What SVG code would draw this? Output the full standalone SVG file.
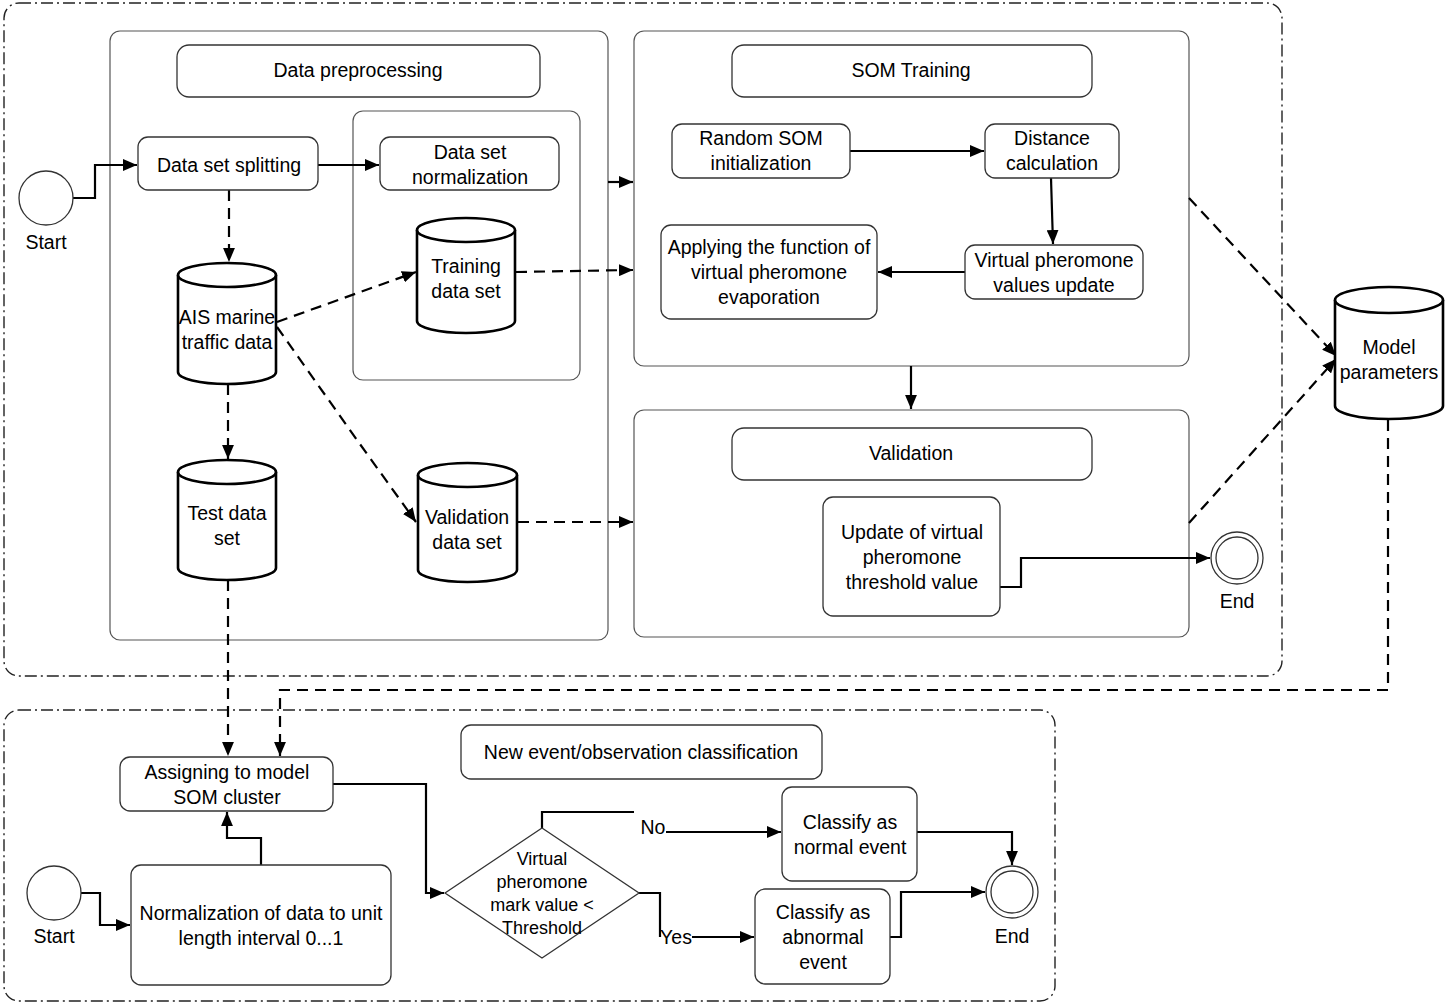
<svg xmlns="http://www.w3.org/2000/svg" width="1447" height="1004" viewBox="0 0 1447 1004">
<defs>
<marker id="ah" viewBox="0 0 13 11" refX="13" refY="5.5" markerWidth="14" markerHeight="12" markerUnits="userSpaceOnUse" orient="auto">
<path d="M0,0 L13,5.5 L0,11 Z" fill="#000"/>
</marker>
<style>
text{font-family:"Liberation Sans",Arial,sans-serif;font-size:19.5px;fill:#000;text-anchor:middle}
.pool{fill:none;stroke:#222;stroke-width:1.4;stroke-dasharray:12,4,2,4}
.panel{fill:#fff;stroke:#555;stroke-width:1.2}
.box{fill:#fff;stroke:#333;stroke-width:1.3}
.cyl{fill:#fff;stroke:#000;stroke-width:2.6}
.ev{fill:#fff;stroke:#333;stroke-width:1.3}
.s{fill:none;stroke:#000;stroke-width:2.2}
.d{fill:none;stroke:#000;stroke-width:2.2;stroke-dasharray:11,7}
</style>
</defs>
<rect width="1447" height="1004" fill="#fff"/>

<g id="pools">
<rect class="pool" x="4" y="3" width="1278" height="673" rx="15"/>
<rect class="pool" x="4" y="710" width="1051" height="291" rx="15"/>
</g>

<g id="panel-preprocessing">
<rect class="panel" x="110" y="31" width="498" height="609" rx="10"/>
<rect class="box" x="177" y="45" width="363" height="52" rx="12"/>
<text x="358" y="77">Data preprocessing</text>
<rect class="panel" x="353" y="111" width="227" height="269" rx="10"/>
</g>

<g id="panel-som">
<rect class="panel" x="634" y="31" width="555" height="335" rx="10"/>
<rect class="box" x="732" y="45" width="360" height="52" rx="12"/>
<text x="911" y="77">SOM Training</text>
</g>

<g id="panel-validation">
<rect class="panel" x="634" y="410" width="555" height="227" rx="10"/>
<rect class="box" x="732" y="428" width="360" height="52" rx="12"/>
<text x="911" y="460">Validation</text>
</g>

<g id="connectors">
<path class="s" d="M73,198 H95 V165 H137" marker-end="url(#ah)"/>
<path class="s" d="M318,165 H379" marker-end="url(#ah)"/>
<path class="d" d="M229,190 V262" marker-end="url(#ah)"/>
<path class="d" d="M277,322 L416,272" marker-end="url(#ah)"/>
<path class="d" d="M277,327 L357,440 L416,522" marker-end="url(#ah)"/>
<path class="d" d="M228,384 V459" marker-end="url(#ah)"/>
<path class="d" d="M228,580 V756" marker-end="url(#ah)"/>
<path class="d" d="M516,272 L633,270" marker-end="url(#ah)"/>
<path class="d" d="M518,522 H633" marker-end="url(#ah)"/>
<path class="s" d="M608,182 H633" marker-end="url(#ah)"/>
<path class="s" d="M850,151 H984" marker-end="url(#ah)"/>
<path class="s" d="M1051,178 L1053,244" marker-end="url(#ah)"/>
<path class="s" d="M965,272 H878" marker-end="url(#ah)"/>
<path class="s" d="M911,366 V409" marker-end="url(#ah)"/>
<path class="s" d="M1000,587 H1021 V558 H1210" marker-end="url(#ah)"/>
<path class="d" d="M1189,198 L1336,356" marker-end="url(#ah)"/>
<path class="d" d="M1189,523 L1336,359" marker-end="url(#ah)"/>
<path class="d" d="M1388,420 V690 H280 V756" marker-end="url(#ah)"/>
<path class="s" d="M81,893 H100 V925 H130" marker-end="url(#ah)"/>
<path class="s" d="M261,865 V838 H227 V812" marker-end="url(#ah)"/>
<path class="s" d="M333,784 H426 V893 H444" marker-end="url(#ah)"/>
<path class="s" d="M542,828 V812 H634"/>
<path class="s" d="M666,832 H781" marker-end="url(#ah)"/>
<path class="s" d="M639,893 H660 V937"/>
<path class="s" d="M692,937 H754" marker-end="url(#ah)"/>
<path class="s" d="M917,832 H1012 V865" marker-end="url(#ah)"/>
<path class="s" d="M890,937 H901 V892 H985" marker-end="url(#ah)"/>
</g>

<g id="start1">
<circle class="ev" cx="46" cy="198" r="27"/>
<text x="46" y="249">Start</text>
</g>
<g id="data-set-splitting">
<rect class="box" x="138" y="137" width="180" height="53" rx="10"/>
<text x="229" y="172">Data set splitting</text>
</g>
<g id="data-set-normalization">
<rect class="box" x="380" y="137" width="179" height="53" rx="10"/>
<text x="470" y="159">Data set</text>
<text x="470" y="184">normalization</text>
</g>
<g id="training-data-set">
<path class="cyl" d="M417,230 A49,12 0 0 1 515,230 V321 A49,12 0 0 1 417,321 Z"/>
<path class="cyl" d="M417,230 A49,12 0 0 0 515,230"/>
<text x="466" y="273">Training</text>
<text x="466" y="298">data set</text>
</g>
<g id="ais-data">
<path class="cyl" d="M178,275 A49,12 0 0 1 276,275 V372 A49,12 0 0 1 178,372 Z"/>
<path class="cyl" d="M178,275 A49,12 0 0 0 276,275"/>
<text x="227" y="324">AIS marine</text>
<text x="227" y="349">traffic data</text>
</g>
<g id="test-data-set">
<path class="cyl" d="M178,472 A49,12 0 0 1 276,472 V568 A49,12 0 0 1 178,568 Z"/>
<path class="cyl" d="M178,472 A49,12 0 0 0 276,472"/>
<text x="227" y="520">Test data</text>
<text x="227" y="545">set</text>
</g>
<g id="validation-data-set">
<path class="cyl" d="M418,475 A49.5,12 0 0 1 517,475 V570 A49.5,12 0 0 1 418,570 Z"/>
<path class="cyl" d="M418,475 A49.5,12 0 0 0 517,475"/>
<text x="467" y="524">Validation</text>
<text x="467" y="549">data set</text>
</g>

<g id="random-som">
<rect class="box" x="672" y="124" width="178" height="54" rx="10"/>
<text x="761" y="145">Random SOM</text>
<text x="761" y="170">initialization</text>
</g>
<g id="distance-calc">
<rect class="box" x="985" y="124" width="134" height="54" rx="10"/>
<text x="1052" y="145">Distance</text>
<text x="1052" y="170">calculation</text>
</g>
<g id="pheromone-update">
<rect class="box" x="965" y="245" width="178" height="54" rx="10"/>
<text x="1054" y="267">Virtual pheromone</text>
<text x="1054" y="292">values update</text>
</g>
<g id="evaporation">
<rect class="box" x="661" y="225" width="216" height="94" rx="10"/>
<text x="769" y="254">Applying the function of</text>
<text x="769" y="279">virtual pheromone</text>
<text x="769" y="304">evaporation</text>
</g>

<g id="threshold-update">
<rect class="box" x="823" y="497" width="177" height="119" rx="10"/>
<text x="912" y="539">Update of virtual</text>
<text x="912" y="564">pheromone</text>
<text x="912" y="589">threshold value</text>
</g>
<g id="end1">
<circle class="ev" cx="1237" cy="558" r="26"/>
<circle class="ev" cx="1237" cy="558" r="21"/>
<text x="1237" y="608">End</text>
</g>

<g id="model-parameters">
<path class="cyl" d="M1335,300 A54,13 0 0 1 1443,300 V406 A54,13 0 0 1 1335,406 Z"/>
<path class="cyl" d="M1335,300 A54,13 0 0 0 1443,300"/>
<text x="1389" y="354">Model</text>
<text x="1389" y="379">parameters</text>
</g>

<g id="classification-header">
<rect class="box" x="461" y="725" width="361" height="54" rx="10"/>
<text x="641" y="759">New event/observation classification</text>
</g>
<g id="assigning">
<rect class="box" x="120" y="757" width="213" height="54" rx="10"/>
<text x="227" y="779">Assigning to model</text>
<text x="227" y="804">SOM cluster</text>
</g>
<g id="start2">
<circle class="ev" cx="54" cy="893" r="27"/>
<text x="54" y="943">Start</text>
</g>
<g id="normalization">
<rect class="box" x="131" y="865" width="260" height="120" rx="10"/>
<text x="261" y="920">Normalization of data to unit</text>
<text x="261" y="945">length interval 0...1</text>
</g>
<g id="decision">
<path class="box" d="M445,893 L542,828 L639,893 L542,958 Z"/>
<text x="542" y="865" style="font-size:18px">Virtual</text>
<text x="542" y="888" style="font-size:18px">pheromone</text>
<text x="542" y="911" style="font-size:18px">mark value &lt;</text>
<text x="542" y="934" style="font-size:18px">Threshold</text>
</g>
<g id="labels">
<text x="653" y="834">No</text>
<text x="676" y="944">Yes</text>
</g>
<g id="classify-normal">
<rect class="box" x="782" y="787" width="135" height="94" rx="10"/>
<text x="850" y="829">Classify as</text>
<text x="850" y="854">normal event</text>
</g>
<g id="classify-abnormal">
<rect class="box" x="755" y="889" width="135" height="95" rx="10"/>
<text x="823" y="919">Classify as</text>
<text x="823" y="944">abnormal</text>
<text x="823" y="969">event</text>
</g>
<g id="end2">
<circle class="ev" cx="1012" cy="892" r="26"/>
<circle class="ev" cx="1012" cy="892" r="21"/>
<text x="1012" y="943">End</text>
</g>
</svg>
